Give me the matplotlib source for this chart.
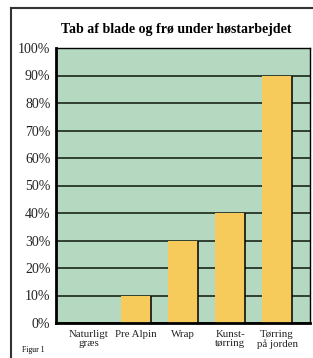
import matplotlib.pyplot as plt
from matplotlib.lines import Line2D

# data
categories = ['Naturligt\ngræs', 'Pre Alpin', 'Wrap', 'Kunst-\ntørring', 'Tørring\npå jorden']
values = [0, 10, 30, 40, 90]
yticks = [0, 10, 20, 30, 40, 50, 60, 70, 80, 90, 100]
ytick_labels = [f'{v}%' for v in yticks]

plt.rcParams['font.family'] = ['Liberation Serif', 'DejaVu Serif']

fig = plt.figure(figsize=(3.13, 3.58), dpi=100)
ax = fig.add_axes([56 / 313, 35 / 358, 254 / 313, 275 / 358])
ax.set_facecolor('#b5d8c1')

width = 0.64
xs = list(range(len(categories)))
ax.set_axisbelow(True)
ax.grid(axis='y', color='#253328', linewidth=1.3)
ax.bar(xs, values, width=width, color='#f6cb5c', zorder=2)
# sort kant kun i højre side af søjlerne
ax.vlines([x + width / 2 for x in xs], 0, values, color='black', linewidth=1.1, zorder=3)

ax.set_xlim(-0.7, 4.7)
ax.set_ylim(0, 100)
ax.set_yticks(yticks)
ax.set_yticklabels(ytick_labels, fontsize=10, color='#222222')
ax.set_xticks(xs)
ax.set_xticklabels(categories, fontsize=7.8, color='#222222', linespacing=1.0)
ax.tick_params(length=0, pad=4)
ax.tick_params(axis='x', pad=5)

for side in ['left', 'bottom']:
    ax.spines[side].set_linewidth(2)
for side in ['top', 'right']:
    ax.spines[side].set_linewidth(1)

fig.text(176 / 313, 1 - 30 / 358, 'Tab af blade og frø under høstarbejdet',
         ha='center', va='center', fontsize=10, fontweight='bold')
fig.text(22 / 313, 1 - 350 / 358, 'Figur 1', ha='left', va='center', fontsize=5.5)

# ramme rundt om figuren
fig.add_artist(Line2D([11 / 313, 11 / 313], [0, 1 - 8 / 358], color='#333333', linewidth=1.5))
fig.add_artist(Line2D([11 / 313, 1], [1 - 8 / 358, 1 - 8 / 358], color='#333333', linewidth=1.5))

fig.savefig('out.png', dpi=100)
